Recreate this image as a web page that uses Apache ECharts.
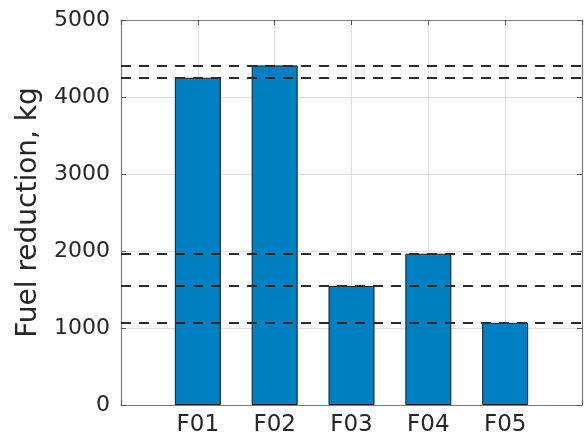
<!DOCTYPE html>
<html>
<head>
<meta charset="utf-8">
<script src="https://cdn.jsdelivr.net/npm/echarts@6/dist/echarts.min.js"></script>
<style>
  html, body { margin: 0; padding: 0; background: #fff; }
  #chart { width: 585px; height: 441px; }
</style>
</head>
<body>
<div id="chart"></div>
<script>
// categories and values
var categories = ['F01', 'F02', 'F03', 'F04', 'F05'];
var fuelReduction = [4250, 4410, 1545, 1965, 1065];
var yTicks = [0, 1000, 2000, 3000, 4000, 5000];

var barColor = '#0080C2';
var textColor = '#262626';
var font = 'DejaVu Sans';

// bar data on a numeric x axis, slots 1..5 (axis runs 0..6)
var barData = [];
for (var i = 0; i < categories.length; i++) {
    barData.push([i + 1, fuelReduction[i]]);
}

// one dashed reference line per bar value
var refLines = [];
for (var j = 0; j < fuelReduction.length; j++) {
    refLines.push({ yAxis: fuelReduction[j] });
}

var myChart = echarts.init(document.getElementById('chart'));

var option = {
    animation: false,
    backgroundColor: '#fff',
    textStyle: { fontFamily: font },
    grid: { left: 121, top: 20, right: 3, bottom: 36, containLabel: false },
    xAxis: [
        {
            type: 'value',
            min: 0, max: categories.length + 1, interval: 1,
            axisLine: { show: true, onZero: false, lineStyle: { color: '#7a7a7a', width: 1.2 } },
            axisTick: { show: true, inside: true, length: 5, lineStyle: { color: '#555' } },
            splitLine: { show: true, lineStyle: { color: '#dedede', width: 1 } },
            axisLabel: {
                color: textColor, fontSize: 23, fontFamily: font, margin: 9,
                formatter: function (v) { return categories[v - 1] || ''; }
            }
        },
        {
            type: 'value', position: 'top',
            min: 0, max: categories.length + 1, interval: 1,
            axisLine: { show: true, onZero: false, lineStyle: { color: '#7a7a7a', width: 1.2 } },
            axisTick: { show: true, inside: true, length: 5, lineStyle: { color: '#555' } },
            splitLine: { show: false },
            axisLabel: { show: false }
        }
    ],
    yAxis: [
        {
            type: 'value',
            min: yTicks[0], max: yTicks[yTicks.length - 1], interval: 1000,
            name: 'Fuel reduction, kg',
            nameLocation: 'middle',
            nameGap: 75,
            nameTextStyle: { color: textColor, fontSize: 28, fontFamily: font },
            axisLine: { show: true, onZero: false, lineStyle: { color: '#7a7a7a', width: 1.2 } },
            axisTick: { show: true, inside: true, length: 5, lineStyle: { color: '#555' } },
            splitLine: { show: true, lineStyle: { color: '#dedede', width: 1 } },
            axisLabel: {
                color: textColor, fontSize: 22, fontFamily: font, margin: 11,
                formatter: function (v) { return String(v); }
            }
        },
        {
            type: 'value', position: 'right',
            min: yTicks[0], max: yTicks[yTicks.length - 1], interval: 1000,
            axisLine: { show: true, onZero: false, lineStyle: { color: '#7a7a7a', width: 1.2 } },
            axisTick: { show: true, inside: true, length: 5, lineStyle: { color: '#555' } },
            splitLine: { show: false },
            axisLabel: { show: false }
        }
    ],
    series: [
        {
            // dashed lines sit behind the bars
            name: 'ref',
            type: 'line',
            data: [],
            z: 1,
            silent: true,
            markLine: {
                silent: true,
                symbol: ['none', 'none'],
                label: { show: false },
                lineStyle: { color: '#2b2b2b', width: 2, type: [10, 8] },
                data: refLines
            }
        },
        {
            name: 'Fuel reduction',
            type: 'bar',
            z: 3,
            barWidth: 46,
            itemStyle: { color: barColor, borderColor: '#1a1a1a', borderWidth: 1 },
            data: barData
        }
    ]
};

myChart.setOption(option);
</script>
</body>
</html>
